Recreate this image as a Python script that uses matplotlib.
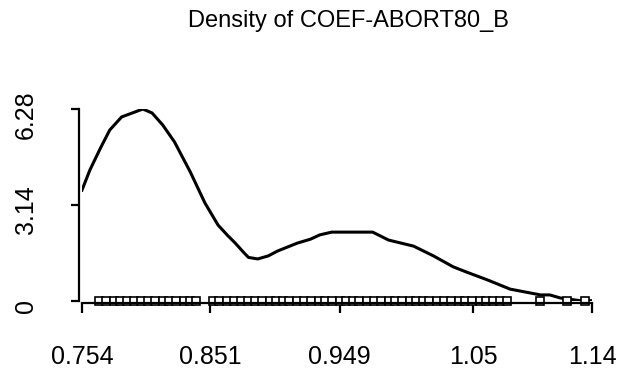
import matplotlib
matplotlib.use("Agg")
import matplotlib.pyplot as plt
from matplotlib.transforms import ScaledTranslation

# density curve
dens_x = [0.754, 0.760, 0.768, 0.775, 0.784, 0.794, 0.800, 0.807, 0.815, 0.824,
          0.836, 0.847, 0.857, 0.864, 0.870, 0.876, 0.880, 0.887, 0.895, 0.902,
          0.917, 0.927, 0.934, 0.943, 0.957, 0.974, 0.986, 1.005, 1.020, 1.035,
          1.045, 1.061, 1.078, 1.101, 1.108, 1.116, 1.131, 1.140]
dens_y = [3.63, 4.29, 5.01, 5.60, 6.03, 6.19, 6.29, 6.16, 5.77, 5.21,
          4.22, 3.21, 2.48, 2.15, 1.89, 1.60, 1.42, 1.37, 1.47, 1.63,
          1.89, 2.02, 2.16, 2.25, 2.25, 2.25, 1.99, 1.79, 1.47, 1.11,
          0.94, 0.68, 0.38, 0.19, 0.19, 0.09, 0.00, 0.00]

# observed coefficients shown as squares along the bottom
obs = [0.767, 0.772, 0.778, 0.783, 0.788, 0.793, 0.799, 0.804, 0.809, 0.815,
       0.820, 0.825, 0.831, 0.836, 0.840,
       0.853, 0.858, 0.864, 0.869, 0.874, 0.880, 0.885, 0.890, 0.896, 0.901,
       0.906, 0.911, 0.917, 0.922, 0.927, 0.933, 0.938, 0.943, 0.949, 0.954,
       0.959, 0.964, 0.970, 0.975, 0.980, 0.986, 0.991, 0.996, 1.002, 1.007,
       1.012, 1.017, 1.023, 1.028, 1.033, 1.039, 1.044, 1.049, 1.055, 1.060,
       1.065, 1.070, 1.076, 1.101, 1.121, 1.135]

xticks = [0.754, 0.851, 0.949, 1.05, 1.14]
xlabels = ["0.754", "0.851", "0.949", "1.05", "1.14"]
yticks = [0, 3.14, 6.28]
ylabels = ["0", "3.14", "6.28"]

plt.rcParams["font.family"] = ["Liberation Sans", "DejaVu Sans"]

fig = plt.figure(figsize=(6.24, 3.69), dpi=100)
ax = fig.add_axes([82 / 624, (369 - 300.7) / 369, 510 / 624, 191.4 / 369])

ax.plot(dens_x, dens_y, color="black", lw=2.2, solid_joinstyle="round")
ax.plot(obs, [0] * len(obs), ls="none", marker="s", ms=5.4, mfc="white",
        mec="black", mew=1.2, clip_on=False)

ax.set_xlim(0.754, 1.14)
ax.set_ylim(0, 6.28)

for s in ["top", "right"]:
    ax.spines[s].set_visible(False)
ax.spines["left"].set_position(("outward", 2))
ax.spines["bottom"].set_position(("outward", 2))
ax.spines["left"].set_bounds(0, 6.28)
ax.spines["bottom"].set_bounds(0.754, 1.14)
for s in ["left", "bottom"]:
    ax.spines[s].set_linewidth(1.6)

ax.set_xticks(xticks)
ax.set_xticklabels(xlabels, fontsize=18)
ax.set_yticks(yticks)
ax.set_yticklabels(ylabels, fontsize=18, rotation=90, va="center")
ax.tick_params(axis="x", length=7, width=1.6, pad=23)
ax.tick_params(axis="y", length=5.5, width=1.6, pad=24)

# R puts the rotated labels a little below the tick
shift = ScaledTranslation(0, -5 / 100, fig.dpi_scale_trans)
for lab in ax.get_yticklabels():
    lab.set_transform(lab.get_transform() + shift)

fig.text(348 / 624, 1 - 27 / 369, "Density of COEF-ABORT80_B", fontsize=17,
         ha="center", va="baseline")

fig.savefig("out.png", dpi=100)
